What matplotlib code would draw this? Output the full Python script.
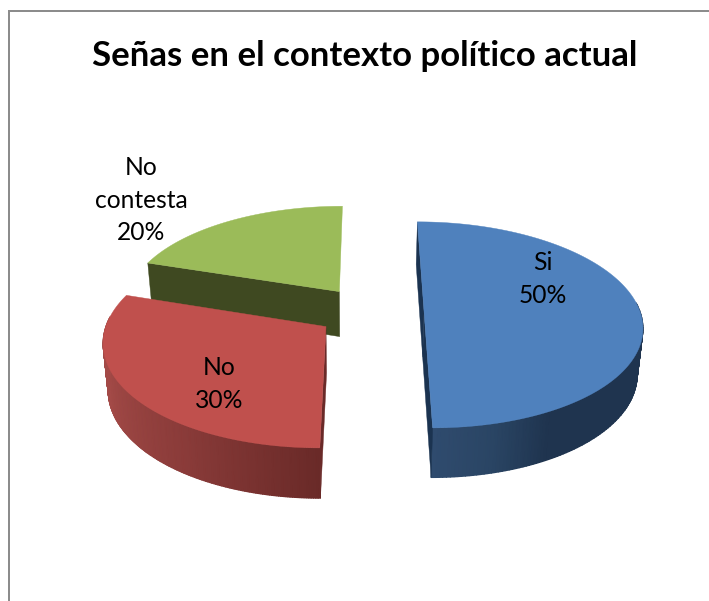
import numpy as np
import matplotlib
matplotlib.use("Agg")
import matplotlib.pyplot as plt
from matplotlib.colors import LinearSegmentedColormap
from matplotlib.patches import Polygon

# Survey results
categories = ["Si", "No", "No contesta"]
shares = [50, 30, 20]
title_text = "Señas en el contexto político actual"

# Colours of the slices: top face, cut face, rim shading along the slice angle
top_colors = ["#4F81BD", "#C0504D", "#9BBB59"]
cut_colors = ["#1B3350", "#6A2A28", "#3F4921"]
rim_colors = [
    [(0.0, "#1F344F"), (0.84, "#1F344F"), (0.92, "#2A4564"), (1.0, "#2F4B6E")],
    [(0.0, "#6A2A28"), (0.31, "#8A3B39"), (0.65, "#A34A47"), (1.0, "#A34A47")],
    [(0.0, "#3F4921"), (1.0, "#3F4921")],
]
# Which ends of each slice's arc show a cut face towards the viewer
cut_face_ends = [(0, -1), (0,), (0,)]

# Perspective pie model, in canvas pixels
VIEW_X = 355.0
VIEW_Y = 311.6
RADIUS_X = 216.0
RADIUS_Y = 101.3
PERSPECTIVE = 0.13
SHEAR = 1.5
DEPTH = 45.7
DEPTH_POWER = 0.6
BASE_SHRINK = 0.98
CENTER = (0.0707, 0.0012)
EXPLODE = 0.249


def project(x, y, lower=False):
    """Map a point of the pie plane onto the canvas."""
    s = 1.0 / (1.0 + PERSPECTIVE * y)
    sx = (RADIUS_X * x + SHEAR * y) * s
    sy = VIEW_Y - RADIUS_Y * y * s
    if lower:
        return np.column_stack([VIEW_X + sx * BASE_SHRINK, sy + DEPTH * s ** DEPTH_POWER])
    return np.column_stack([VIEW_X + sx, sy])


fig = plt.figure(figsize=(7.09, 6.01), dpi=100, facecolor="white")
ax = fig.add_axes([0, 0, 1, 1])
ax.set_xlim(0, 709)
ax.set_ylim(601, 0)
ax.axis("off")

# Chart frame: only the top and left rules fall inside the canvas
ax.plot([8, 709], [11, 11], color="#8C8C8C", lw=1.44, solid_capstyle="butt")
ax.plot([9, 9], [10, 601], color="#8C8C8C", lw=1.44, solid_capstyle="butt")

# Slice angles run clockwise from twelve o'clock
fractions = np.array(shares, dtype=float) / sum(shares)
stops = np.concatenate([[0.0], np.cumsum(fractions)]) * 2 * np.pi

slices = []
for i in range(len(shares)):
    theta = np.linspace(stops[i], stops[i + 1], 200)
    mid = (stops[i] + stops[i + 1]) / 2
    ox = CENTER[0] + EXPLODE * np.sin(mid)
    oy = CENTER[1] + EXPLODE * np.cos(mid)
    slices.append((i, theta, ox, oy))

# Far slice first so nearer slices cover it
for i, theta, ox, oy in [slices[2], slices[1], slices[0]]:
    base_z = 2 - 0.5 * i
    x = ox + np.sin(theta)
    y = oy + np.cos(theta)
    top = project(x, y)
    low = project(x, y, lower=True)
    apex_top = project(np.array([ox]), np.array([oy]))
    apex_low = project(np.array([ox]), np.array([oy]), lower=True)

    # Rim on the near half only, as a smoothly shaded mesh between the two arcs
    near = np.cos(theta) <= 0.1
    if near.sum() > 1:
        cmap = LinearSegmentedColormap.from_list(f"rim{i}", rim_colors[i], N=512)
        mesh_x = np.vstack([top[near, 0], low[near, 0]])
        mesh_y = np.vstack([top[near, 1], low[near, 1]])
        along = np.linspace(0, 1, len(theta))[near]
        ax.pcolormesh(mesh_x, mesh_y, np.vstack([along, along]), cmap=cmap, vmin=0, vmax=1,
                      shading="gouraud", zorder=base_z)

    # Cut faces running from the slice centre to the rim
    for end in cut_face_ends[i]:
        face = np.vstack([apex_top, top[end], low[end], apex_low])
        ax.add_patch(Polygon(face, closed=True, facecolor=cut_colors[i],
                             edgecolor=cut_colors[i], lw=0.3, zorder=base_z + 0.2))

    # Top face
    outline = np.vstack([apex_top, top])
    ax.add_patch(Polygon(outline, closed=True, facecolor=top_colors[i],
                         edgecolor=top_colors[i], lw=0.3, zorder=base_z + 0.4))

ax.text(364.5, 56, title_text, ha="center", va="center", fontsize=25,
        fontweight="bold", family="Lato", color="black")

label_spots = [(543, 279), (219, 384), (141, 200)]
for name, share, (lx, ly) in zip(categories, shares, label_spots):
    text = name.replace(" ", "\n") + f"\n{share}%"
    ax.text(lx, ly, text, ha="center", va="center", fontsize=17.7, family="Lato",
            color="black", linespacing=1.476, zorder=5)

fig.savefig("out.png", dpi=100)
